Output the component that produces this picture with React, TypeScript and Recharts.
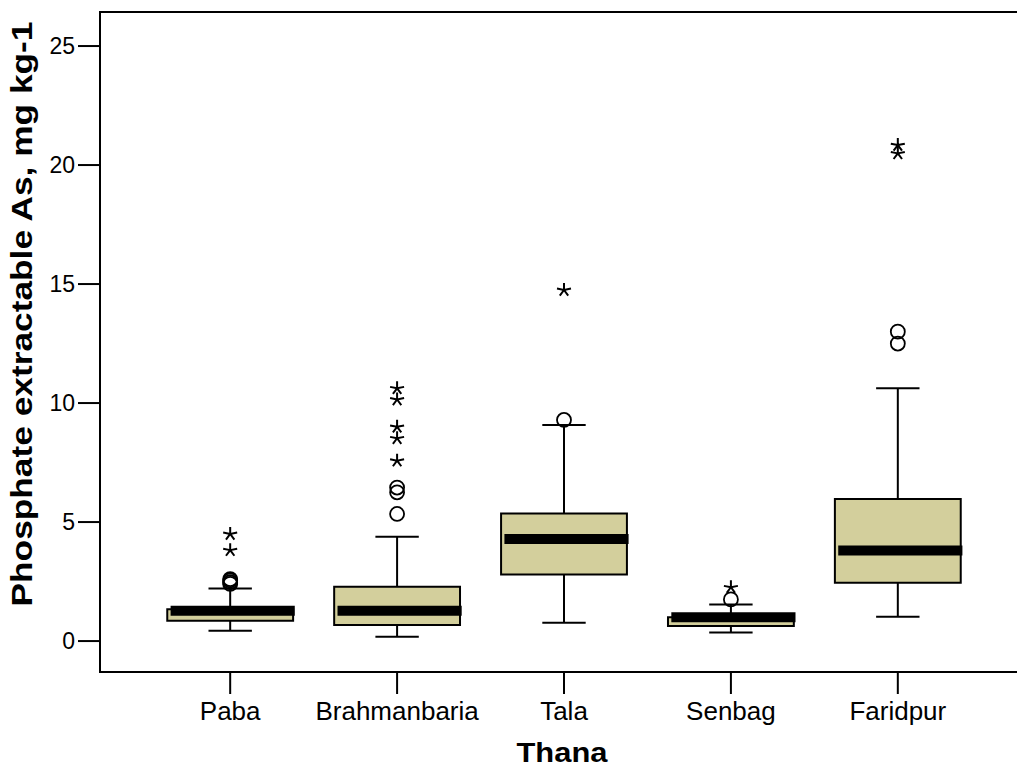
import React from "react";
import {
  ComposedChart,
  XAxis,
  YAxis,
  Scatter,
  ReferenceArea,
  ReferenceLine,
  Label,
} from "recharts";

// Phosphate extractable As by thana (mg kg-1)
const thanas = ["Paba", "Brahmanbaria", "Tala", "Senbag", "Faridpur"];
const whiskerLow = [0.43, 0.18, 0.77, 0.36, 1.02];
const quartile1 = [0.85, 0.67, 2.8, 0.63, 2.45];
const medians = [1.27, 1.27, 4.29, 1.0, 3.8];
const quartile3 = [1.34, 2.28, 5.36, 1.0, 5.97];
const whiskerHigh = [2.21, 4.38, 9.08, 1.54, 10.62];
// circles: outliers, stars: extreme values
const outliers = [
  [2.4, 2.47, 2.55, 2.6],
  [5.34, 6.25, 6.45],
  [9.29],
  [1.75],
  [12.5, 13.0],
];
const extremes = [
  [3.82, 4.5],
  [7.58, 8.52, 9.0, 10.15, 10.62],
  [14.75],
  [2.26],
  [20.49, 20.84],
];
const yTicks = [0, 5, 10, 15, 20, 25];

const X_DOMAIN: [number, number] = [-0.78, 4.78];
const Y_DOMAIN: [number, number] = [-1.3, 26.43];
const BOX_HALF = 0.377;
const CAP_HALF = 0.13;
const FONT = "'Liberation Sans', Arial, sans-serif";
const BOX_FILL = "#D3CF9C";

const circlePoints = outliers.flatMap((vals, i) => vals.map((y) => ({ x: i, y })));
const starPoints = extremes.flatMap((vals, i) => vals.map((y) => ({ x: i, y })));

const CircleMark = (props: any) => (
  <circle cx={props.cx} cy={props.cy} r={7} fill="none" stroke="#000" strokeWidth={1.8} />
);

// five-armed asterisk
const StarMark = (props: any) => {
  const { cx, cy } = props;
  const r = 7;
  const d =
    `M${cx},${cy} L${cx},${cy - r} ` +
    `M${cx},${cy} L${cx - r},${cy - r * 0.2} ` +
    `M${cx},${cy} L${cx + r},${cy - r * 0.2} ` +
    `M${cx},${cy} L${cx - r * 0.6},${cy + r * 0.8} ` +
    `M${cx},${cy} L${cx + r * 0.6},${cy + r * 0.8}`;
  return <path d={d} stroke="#000" strokeWidth={2} fill="none" />;
};

export default function App() {
  return (
    <div
      style={{
        position: "absolute",
        left: 0,
        top: 0,
        width: 1017,
        height: 768,
        overflow: "hidden",
        background: "#fff",
      }}
    >
      <ComposedChart width={1030} height={768} margin={{ top: 12, right: 2, bottom: 0, left: 0 }}>
        <XAxis
          type="number"
          dataKey="x"
          domain={X_DOMAIN}
          allowDataOverflow
          ticks={[0, 1, 2, 3, 4]}
          tickFormatter={(i: number) => thanas[i] ?? ""}
          height={96}
          tickSize={22}
          tickMargin={8}
          axisLine={{ stroke: "#000", strokeWidth: 2 }}
          tickLine={{ stroke: "#000", strokeWidth: 2 }}
          tick={{ fill: "#000", fontSize: 26, fontFamily: FONT }}
        >
          <Label
            content={() => (
              <text
                x={562}
                y={762}
                textAnchor="middle"
                fontFamily={FONT}
                fontWeight="bold"
                fontSize={28}
                textLength={91}
                lengthAdjust="spacingAndGlyphs"
                fill="#000"
              >
                Thana
              </text>
            )}
          />
        </XAxis>
        <YAxis
          type="number"
          dataKey="y"
          domain={Y_DOMAIN}
          allowDataOverflow
          ticks={yTicks}
          width={100}
          tickSize={22}
          tickMargin={3}
          axisLine={{ stroke: "#000", strokeWidth: 2 }}
          tickLine={{ stroke: "#000", strokeWidth: 2 }}
          tick={{ fill: "#000", fontSize: 23, fontFamily: FONT }}
        >
          <Label
            content={() => (
              <text
                x={32}
                y={314}
                transform="rotate(-90, 32, 314)"
                textAnchor="middle"
                fontFamily={FONT}
                fontWeight="bold"
                fontSize={29}
                textLength={585}
                lengthAdjust="spacingAndGlyphs"
                fill="#000"
              >
                Phosphate extractable As, mg kg-1
              </text>
            )}
          />
        </YAxis>

        {/* plot frame */}
        <ReferenceArea
          x1={X_DOMAIN[0]}
          x2={X_DOMAIN[1]}
          y1={Y_DOMAIN[0]}
          y2={Y_DOMAIN[1]}
          ifOverflow="visible"
          fill="none"
          stroke="#000"
          strokeWidth={2}
        />

        {thanas.map((name, i) => (
          <ReferenceLine
            key={`lw-${name}`}
            segment={[
              { x: i, y: whiskerLow[i] },
              { x: i, y: quartile1[i] },
            ]}
            stroke="#000"
            strokeWidth={2}
          />
        ))}
        {thanas.map((name, i) => (
          <ReferenceLine
            key={`uw-${name}`}
            segment={[
              { x: i, y: quartile3[i] },
              { x: i, y: whiskerHigh[i] },
            ]}
            stroke="#000"
            strokeWidth={2}
          />
        ))}
        {thanas.map((name, i) => (
          <ReferenceLine
            key={`lc-${name}`}
            segment={[
              { x: i - CAP_HALF, y: whiskerLow[i] },
              { x: i + CAP_HALF, y: whiskerLow[i] },
            ]}
            stroke="#000"
            strokeWidth={2}
          />
        ))}
        {thanas.map((name, i) => (
          <ReferenceLine
            key={`uc-${name}`}
            segment={[
              { x: i - CAP_HALF, y: whiskerHigh[i] },
              { x: i + CAP_HALF, y: whiskerHigh[i] },
            ]}
            stroke="#000"
            strokeWidth={2}
          />
        ))}
        {thanas.map((name, i) => (
          <ReferenceArea
            key={`box-${name}`}
            x1={i - BOX_HALF}
            x2={i + BOX_HALF}
            y1={quartile1[i]}
            y2={quartile3[i]}
            fill={BOX_FILL}
            fillOpacity={1}
            stroke="#000"
            strokeWidth={2}
          />
        ))}
        {thanas.map((name, i) => (
          <ReferenceLine
            key={`med-${name}`}
            segment={[
              { x: i - BOX_HALF + 0.02, y: medians[i] },
              { x: i + BOX_HALF + 0.01, y: medians[i] },
            ]}
            stroke="#000"
            strokeWidth={10}
          />
        ))}

        <Scatter data={circlePoints} shape={CircleMark} isAnimationActive={false} />
        <Scatter data={starPoints} shape={StarMark} isAnimationActive={false} />
      </ComposedChart>
    </div>
  );
}
